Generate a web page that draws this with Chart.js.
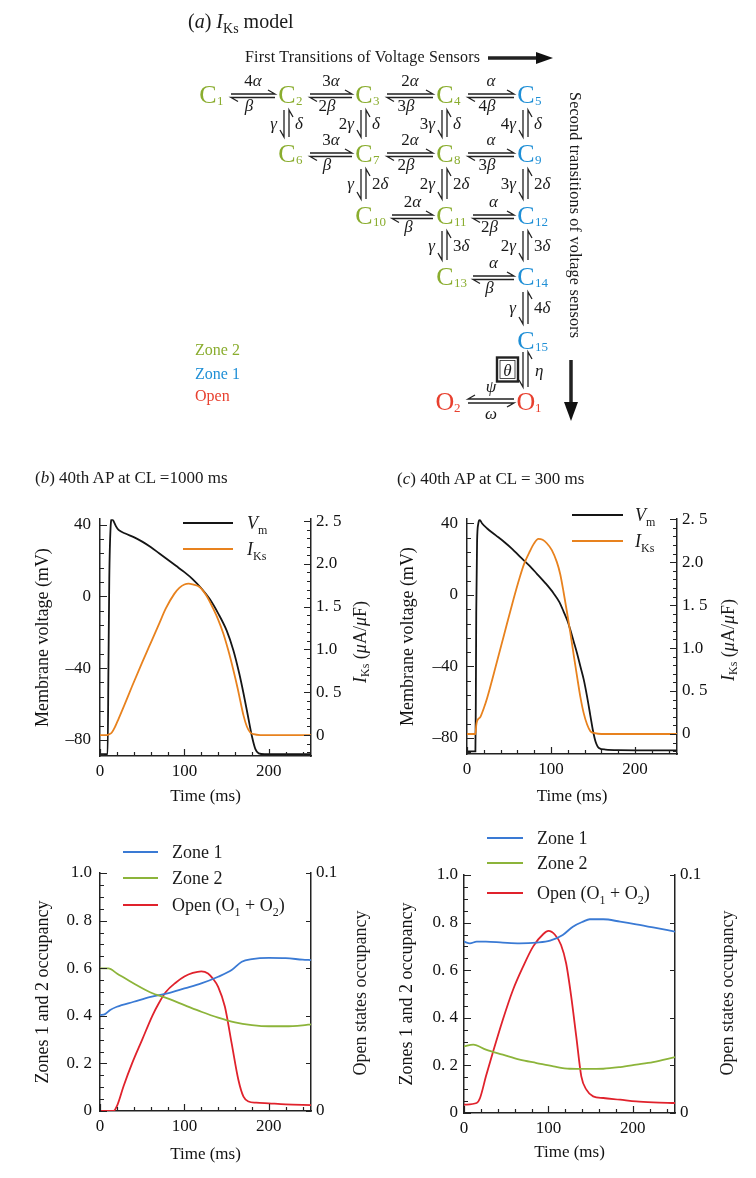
<html>
<head>
<meta name="viewport" content="width=device-width, initial-scale=1.0">
<meta http-equiv="content-type" content="text/html; charset=UTF-8">
<script src="https://cdn.jsdelivr.net/npm/chart.js"></script>
<title>IKs model and action potentials</title>
<style>
  body { margin: 0; background: #fff; }
  #page { position: relative; width: 756px; height: 1178px; overflow: hidden; }
  #page canvas { position: absolute; }
  #over { position: absolute; left: 0; top: 0; pointer-events: none; font-family: "Liberation Serif", serif; }
</style>
</head>
<body>
<div id="page">
  <canvas id="apSlow" width="380" height="310" style="left:0px;top:500px"></canvas>
  <canvas id="apFast" width="386" height="310" style="left:370px;top:500px"></canvas>
  <canvas id="occSlow" width="380" height="320" style="left:0px;top:850px"></canvas>
  <canvas id="occFast" width="386" height="320" style="left:370px;top:850px"></canvas>
  <svg id="over" width="756" height="1178"></svg>
</div>

<script>
// ---- data ----
// (b) CL = 1000 ms
const vmTimeB = [0, 9, 10, 11, 12.5, 14, 16, 19, 22, 30, 40, 50, 60, 70, 80, 90, 100, 110, 120, 130, 140, 150, 158, 165, 170, 175, 180, 184, 188, 195, 210, 250];
const vmB = [-88, -88, -40, 10, 38, 43, 42, 39, 37, 35, 33, 30.5, 27.5, 24, 20.5, 17, 13.5, 9.5, 4.5, -1.5, -9.5, -19, -30, -43, -54, -66, -78, -85, -87.5, -88, -88, -88];
const iksTimeB = [0, 8, 11, 14, 18, 22, 28, 38, 50, 58, 70, 78, 88, 94, 100, 105, 110, 118, 126, 134, 140, 146, 152, 158, 163, 166, 170, 174, 178, 182, 190, 250];
const iksB = [0, 0, 0.01, 0.03, 0.1, 0.19, 0.33, 0.57, 0.85, 1.03, 1.3, 1.48, 1.65, 1.72, 1.76, 1.77, 1.76, 1.73, 1.63, 1.48, 1.35, 1.19, 0.99, 0.76, 0.55, 0.41, 0.23, 0.1, 0.03, 0.01, 0, 0];

// (c) CL = 300 ms
const vmTimeC = [0, 10, 10.5, 11, 12, 13.5, 15, 18, 24, 34, 44, 54, 63, 73, 83, 93, 103, 110, 115, 120, 123, 127, 131, 135, 139, 143, 147, 150, 153, 157, 165, 180, 250];
const vmC = [-87.5, -87.5, -60, -10, 30, 40, 42, 40, 37.2, 33.5, 29.8, 25.7, 21.4, 17, 12, 6.8, 1, -4, -9.3, -15, -19.5, -26, -32.6, -40, -47.4, -57, -67.9, -76, -82, -85.6, -86.5, -86.8, -87];
const iksTimeC = [0, 10, 11, 12, 16, 20, 24, 34, 44, 54, 63, 68, 75, 80, 85, 90, 95, 101, 107, 111, 115, 119, 123, 127, 131, 135, 139, 143, 147, 152, 160, 250];
const iksC = [0, 0, 0.1, 0.15, 0.2, 0.3, 0.42, 0.78, 1.15, 1.52, 1.83, 1.98, 2.13, 2.22, 2.27, 2.26, 2.22, 2.14, 2.0, 1.86, 1.65, 1.42, 1.18, 0.92, 0.67, 0.43, 0.24, 0.11, 0.03, 0.01, 0, 0];

// occupancy, CL = 1000 ms
const zone1TimeB = [0, 6, 12, 20, 40, 60, 80, 100, 120, 140, 156, 168, 180, 200, 220, 240, 250];
const zone1B = [0.403, 0.407, 0.424, 0.438, 0.459, 0.48, 0.494, 0.515, 0.536, 0.564, 0.592, 0.627, 0.638, 0.643, 0.642, 0.636, 0.634];
const zone2TimeB = [0, 10, 20, 40, 60, 80, 100, 120, 140, 160, 180, 200, 220, 240, 250];
const zone2B = [0.599, 0.599, 0.578, 0.536, 0.498, 0.473, 0.445, 0.417, 0.392, 0.372, 0.361, 0.356, 0.356, 0.36, 0.364];
const openTimeB = [0, 16, 20, 28, 38, 50, 62, 70, 78, 90, 100, 110, 120, 128, 134, 140, 148, 156, 164, 170, 176, 185, 200, 220, 250];
const openB = [0, 0, 0.002, 0.0105, 0.02, 0.03, 0.04, 0.0455, 0.05, 0.054, 0.0565, 0.058, 0.0587, 0.0578, 0.0555, 0.0522, 0.0438, 0.0284, 0.013, 0.006, 0.004, 0.0035, 0.0032, 0.0028, 0.0025];

// occupancy, CL = 300 ms
const zone1TimeC = [0, 7, 15, 26, 46, 66, 86, 102, 117, 129, 141, 149, 165, 185, 204, 224, 250];
const zone1C = [0.72, 0.713, 0.72, 0.72, 0.716, 0.713, 0.716, 0.724, 0.748, 0.783, 0.804, 0.814, 0.814, 0.804, 0.793, 0.78, 0.762];
const zone2TimeC = [0, 11, 26, 46, 66, 86, 106, 125, 145, 165, 185, 204, 224, 250];
const zone2C = [0.28, 0.287, 0.266, 0.245, 0.224, 0.21, 0.196, 0.186, 0.185, 0.186, 0.193, 0.203, 0.214, 0.235];
const openTimeC = [0, 15, 19, 26, 34, 46, 58, 70, 82, 94, 100, 108, 115, 121, 127, 133, 139, 145, 153, 165, 185, 204, 224, 250];
const openC = [0.0035, 0.0042, 0.0063, 0.0154, 0.0252, 0.0392, 0.0517, 0.0615, 0.07, 0.0752, 0.0765, 0.0748, 0.0706, 0.0629, 0.049, 0.0322, 0.0154, 0.0098, 0.007, 0.0063, 0.0056, 0.0049, 0.0045, 0.0042];

// tick labels
const timeTicks = [0, 100, 200];
const timeTickLabels = ['0', '100', '200'];
const vmTicks = [40, 0, -40, -80];
const vmTickLabels = ['40', '0', '\u201340', '\u201380'];
const iksTicks = [2.5, 2, 1.5, 1, 0.5, 0];
const iksTickLabels = ['2. 5', '2.0', '1. 5', '1.0', '0. 5', '0'];
const occTicks = [1, 0.8, 0.6, 0.4, 0.2, 0];
const occTickLabels = ['1.0', '0. 8', '0. 6', '0. 4', '0. 2', '0'];
const openTicks = [0.1, 0];
const openTickLabels = ['0.1', '0'];

const BLACK = '#151515', ORANGE = '#e8821e', BLUE = '#3a7ad4', GREEN = '#8cb43a', RED = '#e0222c';
const tickFont = { family: 'Liberation Serif', size: 17 };

// inward tick marks, major and minor
const inTicks = {
  id: 'inTicks',
  afterDraw(chart, args, opts) {
    const ctx = chart.ctx;
    ctx.save();
    ctx.strokeStyle = '#222';
    ctx.lineWidth = 1.2;
    ctx.beginPath();
    for (const id of Object.keys(opts.axes || {})) {
      const s = chart.scales[id], a = opts.axes[id];
      const lens = a.len || [7, 4];
      const k0 = Math.ceil(s.min / a.minor - 1e-6), k1 = Math.floor(s.max / a.minor + 1e-6);
      for (let k = k0; k <= k1; k++) {
        const v = k * a.minor;
        const r = v / a.major;
        const len = Math.abs(r - Math.round(r)) < 1e-6 ? lens[0] : lens[1];
        const p = Math.round(s.getPixelForValue(v)) + 0.5;
        if (s.position === 'left') { ctx.moveTo(s.right, p); ctx.lineTo(s.right + len, p); }
        else if (s.position === 'right') { ctx.moveTo(s.left, p); ctx.lineTo(s.left - len, p); }
        else { ctx.moveTo(p, s.top); ctx.lineTo(p, s.top - len); }
      }
    }
    ctx.stroke();
    ctx.restore();
  }
};

function labelFor(v, ticks, labels) {
  const i = ticks.findIndex(t => Math.abs(t - v) < 1e-9);
  return i >= 0 ? labels[i] : '';
}

function axis(pos, ticks, labels, pad, size, min, max) {
  return {
    type: 'linear', position: pos, min: min, max: max,
    grid: { display: false, drawTicks: false },
    border: { display: true, color: '#222', width: 1.5 },
    ticks: { color: '#111', font: tickFont, padding: pad, autoSkip: false, maxRotation: 0,
             callback: v => labelFor(v, ticks, labels) },
    afterBuildTicks: a => { a.ticks = ticks.map(v => ({ value: v })); },
    afterFit: a => { if (pos === 'bottom') a.height = size; else a.width = size; }
  };
}

function series(t, v, color, yAxisID) {
  return {
    data: t.map((x, i) => ({ x: x, y: v[i] })),
    borderColor: color, backgroundColor: color, borderWidth: 1.8,
    pointRadius: 0, cubicInterpolationMode: 'monotone', yAxisID: yAxisID
  };
}

function plot(id, geo, left, right, sets) {
  const scales = {
    x: axis('bottom', timeTicks, timeTickLabels, 5, geo.xh, 0, 250),
    y: axis('left', left.ticks, left.labels, left.pad, geo.lw, left.min, left.max),
    y1: axis('right', right.ticks, right.labels, 5, geo.rw, right.min, right.max)
  };
  scales.x.title = { display: true, text: 'Time (ms)', color: '#111',
                     font: { family: 'Liberation Serif', size: 17 }, padding: { top: 0, bottom: geo.tb } };
  scales.y.title = { display: true, text: left.title, color: '#111',
                     font: { family: 'Liberation Serif', size: 18 }, padding: { top: geo.tl, bottom: 0 } };
  return new Chart(document.getElementById(id), {
    type: 'line',
    data: { datasets: sets },
    options: {
      responsive: false, animation: false, events: [],
      layout: { padding: { top: geo.pt, left: 0, right: 0, bottom: 0 } },
      plugins: {
        legend: { display: false }, tooltip: { enabled: false },
        inTicks: { axes: { x: { minor: 20, major: 100 }, y: left.tk, y1: right.tk } }
      },
      scales: scales
    },
    plugins: [inTicks]
  });
}

const vmAxisB = { ticks: vmTicks, labels: vmTickLabels, min: -89, max: 43, pad: 9, title: 'Membrane voltage (mV)', tk: { minor: 8, major: 40 } };
const vmAxisC = Object.assign({}, vmAxisB, { max: 42.4 });
const iksAxisB = { ticks: iksTicks, labels: iksTickLabels, min: -0.245, max: 2.523, tk: { minor: 0.1, major: 0.5 } };
const iksAxisC = Object.assign({}, iksAxisB, { min: -0.233, max: 2.5 });
const occAxis = { ticks: occTicks, labels: occTickLabels, min: 0, max: 1, pad: 8, title: 'Zones 1 and 2 occupancy', tk: { minor: 0.05, major: 0.2 } };
const openAxis = { ticks: openTicks, labels: openTickLabels, min: 0, max: 0.1, tk: { minor: 0.02, major: 0.02, len: [5, 5] } };

plot('apSlow', { pt: 18, lw: 100, rw: 69, xh: 54, tl: 32, tb: 3 }, vmAxisB, iksAxisB, [
  series(iksTimeB, iksB, ORANGE, 'y1'), series(vmTimeB, vmB, BLACK, 'y')
]);
plot('apFast', { pt: 19, lw: 97, rw: 79, xh: 56, tl: 27, tb: 3 }, vmAxisC, iksAxisC, [
  series(iksTimeC, iksC, ORANGE, 'y1'), series(vmTimeC, vmC, BLACK, 'y')
]);
plot('occSlow', { pt: 23, lw: 100, rw: 69, xh: 59, tl: 32, tb: 5 }, occAxis, openAxis, [
  series(zone2TimeB, zone2B, GREEN, 'y'), series(zone1TimeB, zone1B, BLUE, 'y'), series(openTimeB, openB, RED, 'y1')
]);
plot('occFast', { pt: 25, lw: 94, rw: 81, xh: 57, tl: 26, tb: 7 }, Object.assign({}, occAxis, { pad: 6 }), openAxis, [
  series(zone2TimeC, zone2C, GREEN, 'y'), series(zone1TimeC, zone1C, BLUE, 'y'), series(openTimeC, openC, RED, 'y1')
]);

// ---- text overlay: scheme (a), headings, legends, right axis titles ----
// mini markup: *x* italic, _{x} subscript
function rich(s, fs) {
  let out = '', shift = 0;
  for (const m of s.match(/(_\{[^}]*\}|\*[^*]*\*|[^_*]+)/g)) {
    const back = shift ? ' dy="' + (-shift) + '"' : '';
    if (m.startsWith('_{')) {
      const d = Math.round(fs * 0.25);
      out += '<tspan font-size="' + Math.round(fs * 0.68) + '" dy="' + d + '">' + m.slice(2, -1) + '</tspan>';
      shift += d;
      continue;
    }
    if (m.startsWith('*')) out += '<tspan font-style="italic"' + back + '>' + m.slice(1, -1) + '</tspan>';
    else out += '<tspan' + back + '>' + m + '</tspan>';
    shift = 0;
  }
  return out;
}
function T(x, y, s, o) {
  o = o || {};
  const fs = o.fs || 17;
  let a = 'x="' + x + '" y="' + y + '" font-size="' + fs + '" fill="' + (o.c || '#1a1a1a') + '"';
  if (o.a) a += ' text-anchor="' + o.a + '"';
  if (o.db) a += ' dominant-baseline="' + o.db + '"';
  if (o.rot) a += ' transform="rotate(' + o.rot + ' ' + x + ' ' + y + ')"';
  if (o.len) a += ' textLength="' + o.len + '" lengthAdjust="spacing"';
  return '<text ' + a + '>' + rich(String(s), fs) + '</text>';
}
function P(d, w) {
  return '<path d="' + d + '" fill="none" stroke="#222" stroke-width="' + (w || 1.3) + '"/>';
}

const SG = '#8aad2f', SB = '#1f8fd6', SR = '#e8402f';
const colX = [208, 287, 364, 445, 526];
const rowY = [94, 153, 215, 276, 340, 401];
const states = [
  ['C', '1', 0, 0, SG], ['C', '2', 1, 0, SG], ['C', '3', 2, 0, SG], ['C', '4', 3, 0, SG], ['C', '5', 4, 0, SB],
  ['C', '6', 1, 1, SG], ['C', '7', 2, 1, SG], ['C', '8', 3, 1, SG], ['C', '9', 4, 1, SB],
  ['C', '10', 2, 2, SG], ['C', '11', 3, 2, SG], ['C', '12', 4, 2, SB],
  ['C', '13', 3, 3, SG], ['C', '14', 4, 3, SB],
  ['C', '15', 4, 4, SB],
  ['O', '2', 3, 5, SR], ['O', '1', 4, 5, SR]
];
// [column, row, forward rate (top), backward rate (bottom)]
const hRates = [
  [0, 0, '4*α*', '*β*'], [1, 0, '3*α*', '2*β*'], [2, 0, '2*α*', '3*β*'], [3, 0, '*α*', '4*β*'],
  [1, 1, '3*α*', '*β*'], [2, 1, '2*α*', '2*β*'], [3, 1, '*α*', '3*β*'],
  [2, 2, '2*α*', '*β*'], [3, 2, '*α*', '2*β*'],
  [3, 3, '*α*', '*β*']
];
// [column, row, downward rate (left), upward rate (right)]
const vRates = [
  [1, 0, '*γ*', '*δ*'], [2, 0, '2*γ*', '*δ*'], [3, 0, '3*γ*', '*δ*'], [4, 0, '4*γ*', '*δ*'],
  [2, 1, '*γ*', '2*δ*'], [3, 1, '2*γ*', '2*δ*'], [4, 1, '3*γ*', '2*δ*'],
  [3, 2, '*γ*', '3*δ*'], [4, 2, '2*γ*', '3*δ*'],
  [4, 3, '*γ*', '4*δ*']
];

let svg = '';
svg += T(188, 28, '(*a*) *I*_{Ks} model', { fs: 20 });
svg += T(245, 62, 'First Transitions of Voltage Sensors', { fs: 16, len: 235 });
svg += P('M488 58H538', 3.5) + '<polygon points="536,52 553,58 536,64" fill="#111"/>';
svg += T(576, 92, 'Second transitions of voltage sensors', { fs: 16, rot: 90, db: 'central', len: 246 });
svg += P('M571 360V404', 3.5) + '<polygon points="564,402 578,402 571,421" fill="#111"/>';
svg += T(195, 355, 'Zone 2', { fs: 16, c: SG });
svg += T(195, 379, 'Zone 1', { fs: 16, c: SB });
svg += T(195, 401, 'Open', { fs: 16, c: SR });

const subLen = {};
states.forEach(([L, n, c, r, col]) => {
  const x = colX[c], y = rowY[r];
  subLen[c + ',' + r] = n.length;
  svg += T(x, y + 9, L, { fs: 26, a: 'middle', c: col });
  svg += T(x + 9, y + 11, n, { fs: 13, c: col });
});
hRates.forEach(([c, r, top, bot]) => {
  const y = rowY[r];
  const x1 = colX[c] + (subLen[c + ',' + r] > 1 ? 28 : 23), x2 = colX[c + 1] - 12;
  svg += P('M' + x1 + ' ' + y + 'H' + x2 + 'l-7 -4');
  svg += P('M' + x2 + ' ' + (y + 3.5) + 'H' + x1 + 'l7 4');
  svg += T((x1 + x2) / 2, y - 8, top, { a: 'middle' });
  svg += T((x1 + x2) / 2 - 4, y + 17, bot, { a: 'middle' });
});
vRates.forEach(([c, r, down, up]) => {
  const x = colX[c], y1 = rowY[r] + 16, y2 = rowY[r + 1] - 16, mid = (y1 + y2) / 2;
  svg += P('M' + (x - 3) + ' ' + y1 + 'V' + y2 + 'l-4 -7');
  svg += P('M' + (x + 2) + ' ' + y2 + 'V' + y1 + 'l4 7');
  svg += T(x - 10, mid + 5, down, { a: 'end' });
  svg += T(x + 8, mid + 5, up);
});
// C15 <-> O1 and O1 <-> O2
{
  const x = colX[4], y1 = rowY[4] + 12, y2 = rowY[5] - 14, mid = (y1 + y2) / 2;
  svg += P('M' + (x - 3) + ' ' + y1 + 'V' + y2 + 'l-4 -7');
  svg += P('M' + (x + 2) + ' ' + y2 + 'V' + y1 + 'l4 7');
  svg += '<rect x="' + (x - 29) + '" y="' + (mid - 12) + '" width="21" height="24" fill="none" stroke="#222" stroke-width="2.4"/>';
  svg += '<rect x="' + (x - 26) + '" y="' + (mid - 9) + '" width="15" height="18" fill="none" stroke="#222" stroke-width="0.8"/>';
  svg += T(x - 18.5, mid + 6, '*θ*', { a: 'middle' });
  svg += T(x + 9, mid + 6, '*η*');
  const y = rowY[5], a1 = colX[3] + 23, a2 = colX[4] - 12;
  svg += P('M' + a2 + ' ' + (y - 2) + 'H' + a1 + 'l7 -4');
  svg += P('M' + a1 + ' ' + (y + 2) + 'H' + a2 + 'l-7 4');
  svg += T((a1 + a2) / 2, y - 9, '*ψ*', { a: 'middle' });
  svg += T((a1 + a2) / 2, y + 18, '*ω*', { a: 'middle' });
}

// chart headings
svg += T(35, 483, '(*b*) 40th AP at CL =1000 ms', { fs: 17 });
svg += T(397, 484, '(*c*) 40th AP at CL = 300 ms', { fs: 17 });

// right axis titles
svg += T(360, 642, '*I*_{Ks} (*μ*A/*μ*F)', { fs: 18, a: 'middle', db: 'central', rot: -90 });
svg += T(728, 640, '*I*_{Ks} (*μ*A/*μ*F)', { fs: 18, a: 'middle', db: 'central', rot: -90 });
svg += T(360, 993, 'Open states occupancy', { fs: 18, a: 'middle', db: 'central', rot: -90 });
svg += T(727, 993, 'Open states occupancy', { fs: 18, a: 'middle', db: 'central', rot: -90 });

// legends: [line start, line end, text x, rows of [y, colour, label]]
const legends = [
  [183, 233, 247, [[523, BLACK, '*V*_{m}'], [549, ORANGE, '*I*_{Ks}']]],
  [572, 623, 635, [[515, BLACK, '*V*_{m}'], [541, ORANGE, '*I*_{Ks}']]],
  [123, 158, 172, [[852, BLUE, 'Zone 1'], [878, GREEN, 'Zone 2'], [905, RED, 'Open (O_{1} + O_{2})']]],
  [487, 523, 537, [[838, BLUE, 'Zone 1'], [863, GREEN, 'Zone 2'], [893, RED, 'Open (O_{1} + O_{2})']]]
];
legends.forEach(([x1, x2, tx, rows]) => {
  rows.forEach(([y, color, label]) => {
    svg += '<line x1="' + x1 + '" y1="' + y + '" x2="' + x2 + '" y2="' + y + '" stroke="' + color + '" stroke-width="2"/>';
    svg += T(tx, y + 6, label, { fs: 18 });
  });
});

document.getElementById('over').innerHTML = svg;
</script>
</body>
</html>
